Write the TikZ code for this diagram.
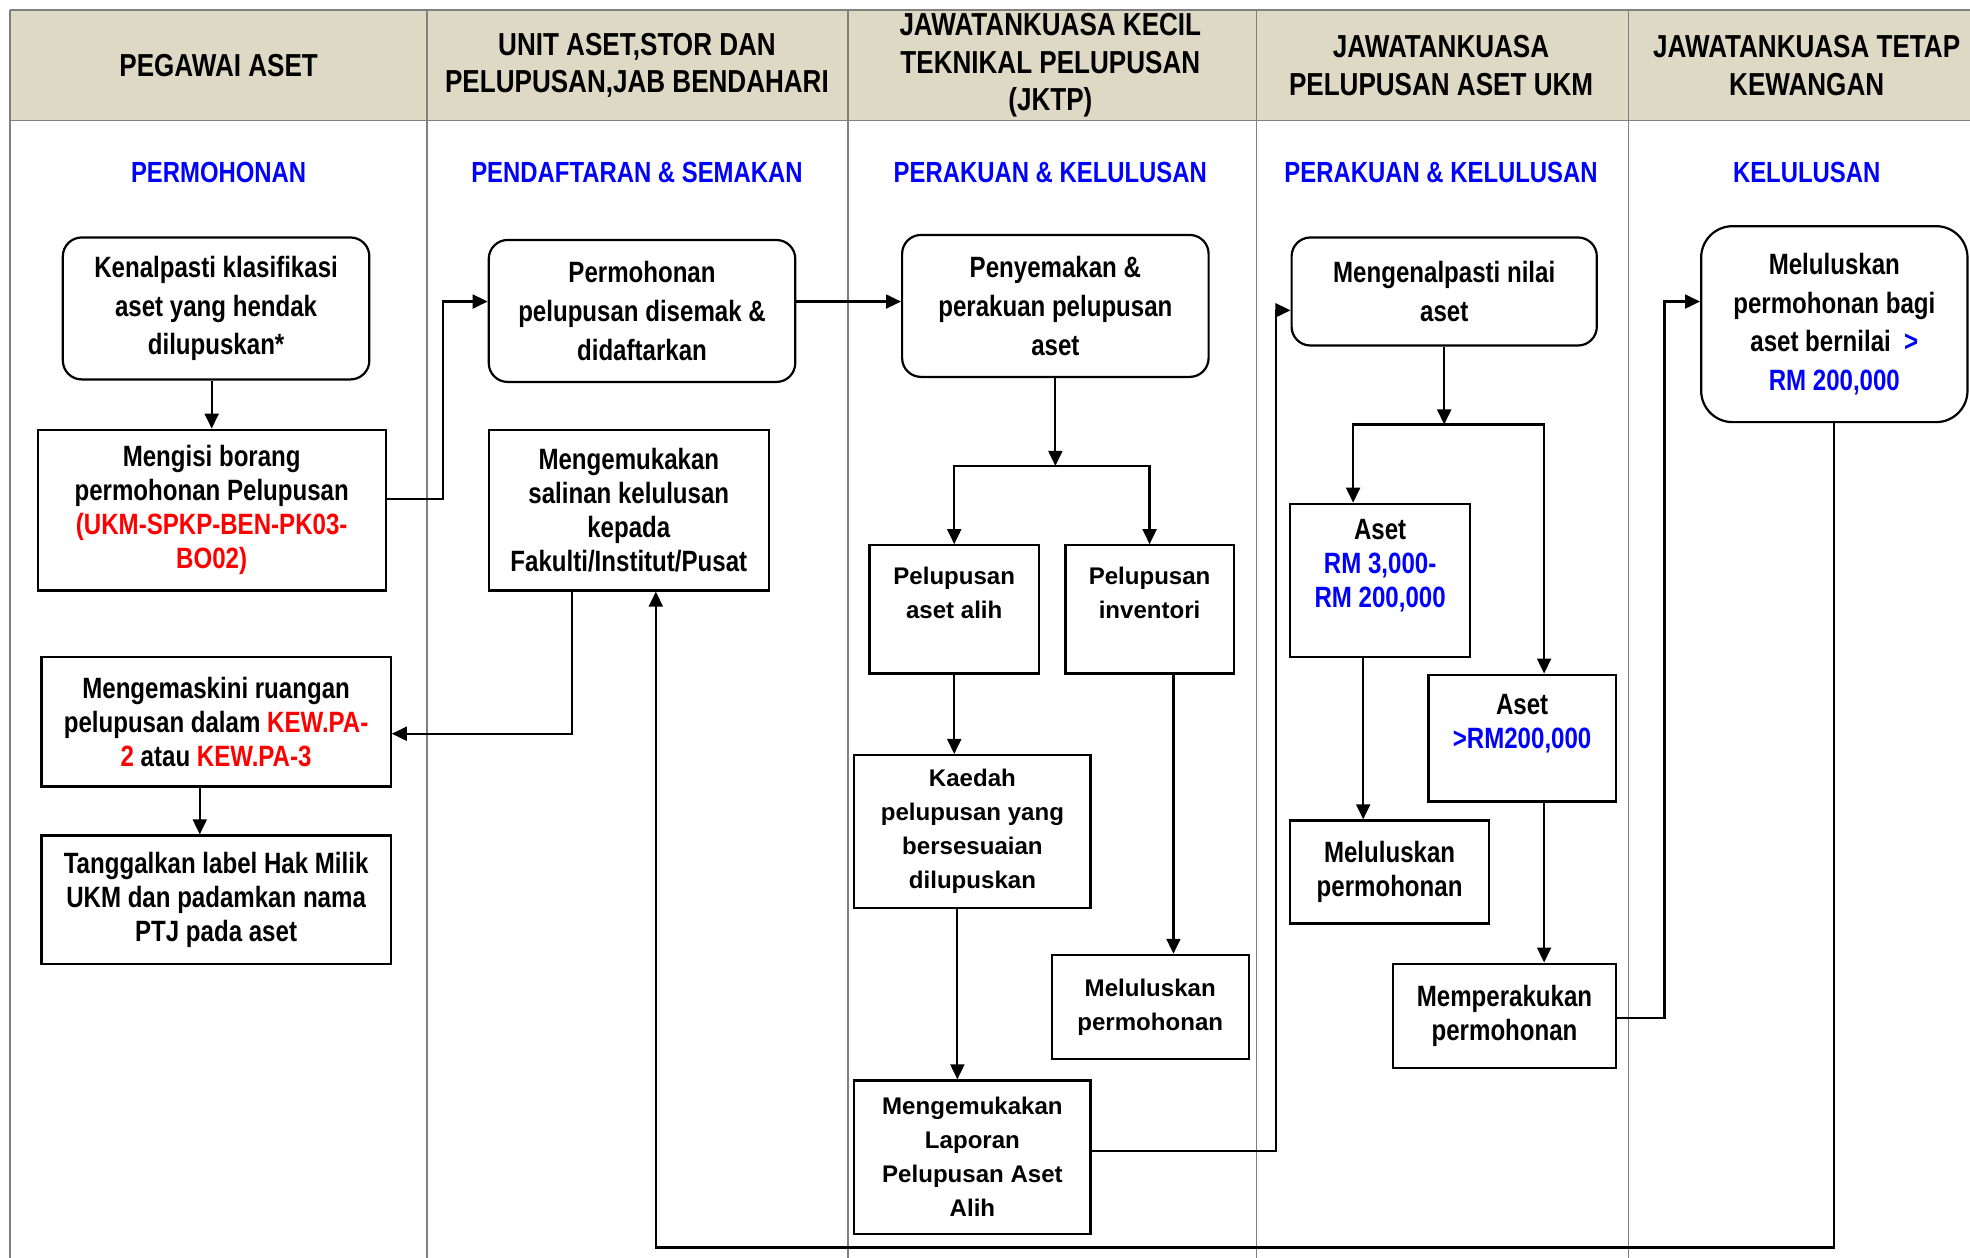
\documentclass[tikz,border=0pt]{standalone}
\usepackage{fontspec}
\setmainfont{Liberation Sans}
\newfontfamily\narrowfont[FakeStretch=0.82]{Liberation Sans}
\usetikzlibrary{arrows.meta}

\definecolor{headtan}{RGB}{221,217,196}
\definecolor{gridgrey}{RGB}{128,128,128}

\begin{document}
\begin{tikzpicture}[x=0.02cm,y=-0.02cm]
        \tikzset{hdr/.style = {align=center,font=\narrowfont\bfseries\fontsize{14.4}{17}\selectfont}}
        \tikzset{stage/.style = {align=center,text=blue,font=\narrowfont\bfseries\fontsize{13.2}{16}\selectfont}}
        \tikzset{rbox/.style = {shape=rectangle,draw,line width=1pt,rounded corners=0.3cm,align=center,inner sep=2pt,font=\narrowfont\bfseries\fontsize{13.3}{17.6}\selectfont}}
        \tikzset{nbox/.style = {shape=rectangle,draw,line width=1pt,align=center,inner sep=2pt,font=\narrowfont\bfseries\fontsize{13.3}{15.4}\selectfont}}
        \tikzset{wbox/.style = {shape=rectangle,draw,line width=1pt,align=center,inner sep=2pt,font=\bfseries\fontsize{10.9}{15.4}\selectfont}}
        \tikzset{edge/.style = {line width=1pt,-{Triangle[length=6.8pt,width=6.3pt]}}}
        \tikzset{grid/.style = {draw=gridgrey,line width=0.7pt}}
        \useasboundingbox (0,0) rectangle (1568,1001);

        % swimlane table
        \fill[headtan] (8,8) rectangle (1580,96);
        \draw[grid] (8,8) -- (1580,8);
        \draw[grid] (8,96) -- (1580,96);
        \foreach \x in {8,340,675,1000,1296}
            \draw[grid] (\x,8) -- (\x,1010);

        \node[hdr] (h1) at (174,52) {PEGAWAI ASET};
        \node[hdr] (h2) at (507,52) {UNIT ASET,STOR DAN\\PELUPUSAN,JAB BENDAHARI};
        \node[hdr] (h3) at (836,52) {JAWATANKUASA KECIL\\TEKNIKAL PELUPUSAN\\(JKTP)};
        \node[hdr] (h4) at (1147,52) {JAWATANKUASA\\PELUPUSAN ASET UKM};
        \node[hdr] (h5) at (1438,52) {JAWATANKUASA TETAP\\KEWANGAN};

        \node[stage] (s1) at (174,137) {PERMOHONAN};
        \node[stage] (s2) at (507,137) {PENDAFTARAN \& SEMAKAN};
        \node[stage] (s3) at (836,137) {PERAKUAN \& KELULUSAN};
        \node[stage] (s4) at (1147,137) {PERAKUAN \& KELULUSAN};
        \node[stage] (s5) at (1438,137) {KELULUSAN};

        % pegawai aset
        \node[rbox,minimum width=4.88cm,minimum height=2.26cm] (A1) at (172,245.5) {Kenalpasti klasifikasi\\aset yang hendak\\dilupuskan*};
        \node[nbox,minimum width=5.54cm,minimum height=2.56cm] (A2) at (168.5,406) {Mengisi borang\\permohonan Pelupusan\\\textcolor{red}{(UKM-SPKP-BEN-PK03-}\\\textcolor{red}{BO02)}};
        \node[nbox,minimum width=5.56cm,minimum height=2.06cm] (A3) at (172,574.5) {Mengemaskini ruangan\\pelupusan dalam \textcolor{red}{KEW.PA-}\\\textcolor{red}{2} atau \textcolor{red}{KEW.PA-3}};
        \node[nbox,minimum width=5.56cm,minimum height=2.04cm] (A4) at (172,716) {Tanggalkan label Hak Milik\\UKM dan padamkan nama\\PTJ pada aset};

        % unit aset
        \node[rbox,minimum width=4.88cm,minimum height=2.26cm] (B1) at (511,247.5) {Permohonan\\pelupusan disemak \&\\didaftarkan};
        \node[nbox,minimum width=4.46cm,minimum height=2.56cm] (B2) at (500.5,406) {Mengemukakan\\salinan kelulusan\\kepada\\Fakulti/Institut/Pusat};

        % JKTP
        \node[rbox,minimum width=4.88cm,minimum height=2.26cm] (C1) at (840,243.5) {Penyemakan \&\\perakuan pelupusan\\aset};
        \node[wbox,minimum width=2.70cm,minimum height=2.04cm] (C2) at (759.5,485) {Pelupusan\\aset alih\\~};
        \node[wbox,minimum width=2.68cm,minimum height=2.04cm] (C3) at (915,485) {Pelupusan\\inventori\\~};
        \node[wbox,minimum width=3.76cm,minimum height=2.44cm] (C4) at (774,662) {Kaedah\\pelupusan yang\\bersesuaian\\dilupuskan};
        \node[wbox,minimum width=3.76cm,minimum height=2.44cm] (C5) at (774,921) {Mengemukakan\\Laporan\\Pelupusan Aset\\Alih};
        \node[wbox,minimum width=3.14cm,minimum height=1.66cm] (C6) at (915.5,801.5) {Meluluskan\\permohonan};

        % jawatankuasa pelupusan
        \node[rbox,minimum width=4.86cm,minimum height=1.72cm] (D1) at (1149.5,232) {Mengenalpasti nilai\\aset};
        \node[nbox,minimum width=2.86cm,minimum height=2.44cm] (D2) at (1098.5,462) {Aset\\\textcolor{blue}{RM 3,000-}\\\textcolor{blue}{RM 200,000}\\~};
        \node[nbox,minimum width=2.98cm,minimum height=2.02cm] (D3) at (1211.5,587.5) {Aset\\\textcolor{blue}{>RM200,000}\\~};
        \node[nbox,minimum width=3.16cm,minimum height=1.64cm] (D4) at (1106,694) {Meluluskan\\permohonan};
        \node[nbox,minimum width=3.54cm,minimum height=1.66cm] (D5) at (1197.5,808.5) {Memperakukan\\permohonan};

        % jawatankuasa tetap
        \node[rbox,rounded corners=0.5cm,minimum width=4.24cm,minimum height=3.12cm] (E1) at (1460,258) {Meluluskan\\permohonan bagi\\aset bernilai \ \textcolor{blue}{>}\\\textcolor{blue}{RM 200,000}};

        \coordinate (cj) at ([yshift=-1.4cm]C1.south);
        \coordinate (dj) at ([yshift=-1.24cm]D1.south);

        \draw[edge] (A1.south -| A2.north) -- (A2.north);
        \draw[edge] ([yshift=0.18cm]A2.east) -- ++(45,0) |- ([yshift=0.15cm]B1.west);
        \draw[edge] ([yshift=0.15cm]B1.east) -- ([yshift=0.15cm]B1.east -| C1.west);
        \draw[edge] ([xshift=-0.91cm]B2.south) |- ([yshift=-0.19cm]A3.east);
        \draw[edge] ([xshift=-0.26cm]A3.south) -- ([xshift=-0.26cm]A3.south |- A4.north);

        \draw[edge] (C1.south) -- (cj);
        \draw[edge] (cj) -| (C2.north);
        \draw[edge] (cj) -| (C3.north);
        \draw[edge] (C2.south) -- (C2.south |- C4.north);
        \draw[edge] ([xshift=-0.24cm]C4.south) -- ([xshift=-0.24cm]C5.north);
        \draw[edge] ([xshift=0.38cm]C3.south) -- ([xshift=0.38cm]C3.south |- C6.north);
        \draw[edge] ([yshift=0.1cm]C5.east) -- ++(147,0) |- ([yshift=-0.3cm]D1.west);

        \draw[edge] (D1.south) -- (dj);
        \draw[edge] (dj) -| ([xshift=-0.43cm]D2.north);
        \draw[edge] (dj) -| ([xshift=0.35cm]D3.north);
        \draw[edge] ([xshift=-0.27cm]D2.south) -- ([xshift=-0.27cm]D2.south |- D4.north);
        \draw[edge] ([xshift=0.35cm]D3.south) -- ([xshift=0.35cm]D3.south |- D5.north);
        \draw[edge] ([yshift=-0.03cm]D5.east) -- ++(38,0) |- ([yshift=0.36cm]E1.west);

        \draw[edge] (E1.south) -- ++(0,656) -| ([xshift=0.43cm]B2.south);
\end{tikzpicture}
\end{document}
